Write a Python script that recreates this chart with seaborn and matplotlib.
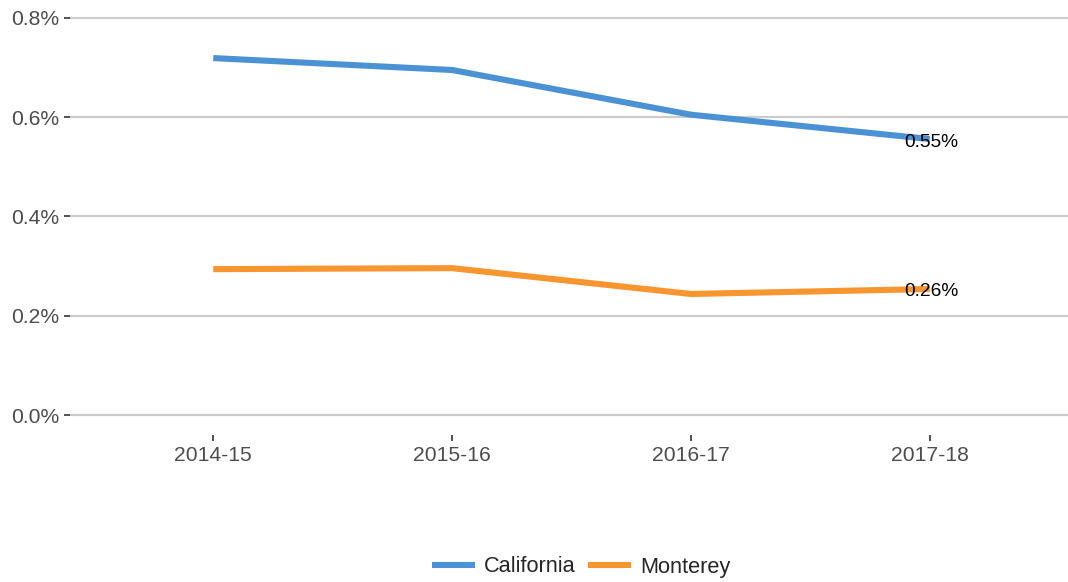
import pandas as pd
import numpy as np
import matplotlib
matplotlib.use("Agg")
import matplotlib.pyplot as plt
import seaborn as sns
from matplotlib.ticker import FuncFormatter

years = ["2014-15", "2015-16", "2016-17", "2017-18"]
california = [0.719, 0.695, 0.605, 0.556]
monterey = [0.294, 0.296, 0.244, 0.254]
end_labels = ["0.55%", "0.26%"]

df = pd.DataFrame({
    "year": years * 2,
    "rate": california + monterey,
    "region": ["California"] * 4 + ["Monterey"] * 4,
})
df["pos"] = df["year"].map({y: i for i, y in enumerate(years)})

sns.set_style("white")
plt.rcParams['font.family'] = ['Liberation Sans', 'DejaVu Sans']

fig = plt.figure(figsize=(10.68, 5.82), dpi=100)
ax = fig.add_axes([70 / 1068, 1 - 435 / 582, 1003 / 1068, 437 / 582])

palette = {"California": "#4B92D4", "Monterey": "#F7952F"}
sns.lineplot(data=df, x="pos", y="rate", hue="region", palette=palette,
             linewidth=4.4, ax=ax, legend=True, solid_capstyle="butt")

# end labels, nudged a little below the line end
for vals, lab in zip([california, monterey], end_labels):
    ax.text(len(years) - 1 - 0.105, vals[-1] - 0.006, lab, fontsize=13.8, color="black",
            ha="left", va="center")

ax.set_xlim(-0.6, 3.6)
ax.set_ylim(-0.04, 0.84)
ax.set_xticks(range(len(years)))
ax.set_xticklabels(years)
ax.set_yticks([0, 0.2, 0.4, 0.6, 0.8])
ax.yaxis.set_major_formatter(FuncFormatter(lambda v, p: f"{v:.1f}%"))
ax.grid(axis="y", color="#CCCCCC", linewidth=1.6)
ax.grid(axis="x", visible=False)
ax.set_axisbelow(True)
for s in ax.spines.values():
    s.set_visible(False)
ax.tick_params(axis="both", length=4, width=1.2, color="#333333",
               labelsize=15.2, labelcolor="#4D4D4D", pad=4, bottom=True, left=True)
ax.set_xlabel("")
ax.set_ylabel("")

leg = ax.legend(loc="center", bbox_to_anchor=(581 / 1068, 1 - 567 / 582),
                bbox_transform=fig.transFigure, ncol=2, frameon=False,
                fontsize=15.7, handlelength=2.0, columnspacing=0.55, handletextpad=0.4)
for h in leg.get_lines():
    h.set_linewidth(4.4)

fig.savefig("out.png", dpi=100)
